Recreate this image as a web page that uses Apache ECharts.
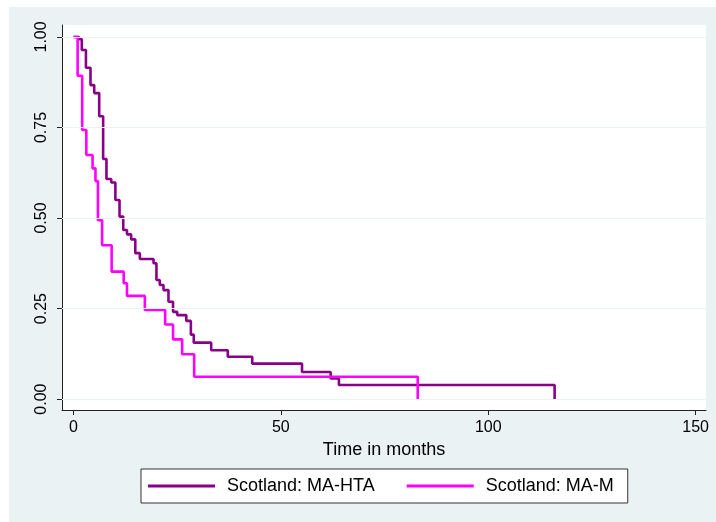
<!DOCTYPE html>
<html>
<head>
<meta charset="utf-8">
<script src="https://cdn.jsdelivr.net/npm/echarts@6/dist/echarts.min.js"></script>
<style>
  body { margin: 0; background: #fff; }
  #bg { position: absolute; left: 9px; top: 7px; width: 707px; height: 515px; background: #eaf2f3; }
  #main { position: absolute; left: 0; top: 0; width: 716px; height: 522px; }
</style>
</head>
<body>
<div id="bg"></div>
<div id="main"></div>
<script>
// Kaplan-Meier steps (months, survival after the drop)
var timeHTA = [0, 1.3, 2.0, 3.0, 4.1, 5.0, 6.2, 7.15, 7.95, 9.1, 10.1, 11.1, 12.0, 12.9, 13.9, 14.9, 16.0, 19.3, 20.0, 20.8, 21.7, 22.9, 24.0, 25.0, 27.2, 28.3, 29.0, 33.2, 37.2, 43.1, 55.1, 62.0, 64.0, 116]
var survHTA = [1, 0.994, 0.964, 0.915, 0.867, 0.845, 0.781, 0.663, 0.608, 0.598, 0.55, 0.504, 0.467, 0.455, 0.441, 0.403, 0.387, 0.375, 0.329, 0.315, 0.301, 0.269, 0.241, 0.232, 0.216, 0.178, 0.156, 0.135, 0.117, 0.098, 0.075, 0.057, 0.039, 0]

var timeM = [0, 1.0, 2.1, 3.1, 4.6, 5.3, 5.9, 6.9, 9.2, 12.1, 12.9, 17.2, 22.1, 24.0, 26.2, 29.1, 83]
var survM = [1, 0.893, 0.743, 0.674, 0.637, 0.602, 0.494, 0.425, 0.352, 0.320, 0.285, 0.246, 0.206, 0.165, 0.124, 0.062, 0]

var xTicks = [0, 50, 100, 150]
var yTicks = [0, 0.25, 0.5, 0.75, 1]

var seriesNames = ['Scotland: MA-HTA', 'Scotland: MA-M']

function pairs(t, s) {
  var out = []
  for (var i = 0; i < t.length; i++) {
    out.push([t[i], s[i]])
  }
  return out
}

var myChart = echarts.init(document.getElementById('main'))

var font = 'Liberation Sans, Arial, Helvetica, sans-serif'

var option = {
  backgroundColor: 'transparent',
  animation: false,
  grid: {
    left: 62,
    top: 25,
    right: 10,
    bottom: 112,
    show: true,
    backgroundColor: '#ffffff',
    borderWidth: 0
  },
  legend: {
    data: seriesNames,
    left: 141,
    top: 469,
    icon: 'rect',
    itemWidth: 67,
    itemHeight: 3,
    itemGap: 32,
    padding: [8, 14, 8, 7],
    backgroundColor: '#ffffff',
    borderColor: '#333333',
    borderWidth: 1,
    borderRadius: 0,
    textStyle: {
      fontFamily: font,
      fontSize: 18,
      color: '#000',
      padding: [0, 0, 0, 7]
    }
  },
  xAxis: {
    type: 'value',
    min: -2.77,
    max: 152.5,
    name: 'Time in months',
    nameLocation: 'middle',
    nameGap: 30,
    nameTextStyle: { fontFamily: font, fontSize: 18, color: '#000' },
    axisLine: { show: true, onZero: false, lineStyle: { color: '#222', width: 1 } },
    axisTick: { show: true, length: 5, lineStyle: { color: '#222' }, customValues: xTicks },
    axisLabel: { fontFamily: font, fontSize: 16, color: '#000', margin: 10, customValues: xTicks },
    splitLine: { show: false }
  },
  yAxis: {
    type: 'value',
    min: -0.030,
    max: 1.033,
    axisLine: { show: true, onZero: false, lineStyle: { color: '#222', width: 1 } },
    axisTick: { show: true, length: 5, lineStyle: { color: '#222' }, customValues: yTicks },
    axisLabel: {
      fontFamily: font,
      fontSize: 16,
      color: '#000',
      rotate: 90,
      margin: 12,
      customValues: yTicks,
      formatter: function (v) { return v.toFixed(2) }
    },
    splitLine: { show: false }
  },
  series: [
    {
      // horizontal grid lines
      type: 'line',
      data: [],
      silent: true,
      markLine: {
        silent: true,
        symbol: 'none',
        label: { show: false },
        lineStyle: { color: '#eaf2f3', width: 1, type: 'solid' },
        data: yTicks.map(function (v) { return { yAxis: v } })
      }
    },
    {
      name: seriesNames[0],
      type: 'line',
      step: 'end',
      showSymbol: false,
      color: '#880088',
      lineStyle: { color: '#880088', width: 2.6 },
      data: pairs(timeHTA, survHTA)
    },
    {
      name: seriesNames[1],
      type: 'line',
      step: 'end',
      showSymbol: false,
      color: '#ff00ff',
      lineStyle: { color: '#ff00ff', width: 2.6 },
      data: pairs(timeM, survM)
    }
  ]
}

myChart.setOption(option)
</script>
</body>
</html>
